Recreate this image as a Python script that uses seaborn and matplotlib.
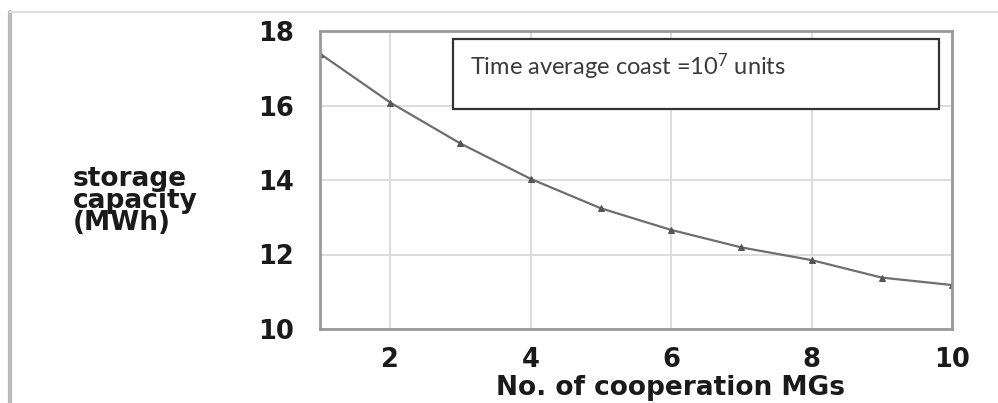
import matplotlib
matplotlib.use("Agg")
import matplotlib.pyplot as plt
from matplotlib.lines import Line2D
from matplotlib.patches import Rectangle
import seaborn as sns
import pandas as pd

# ---- data ----
n_mgs = [1, 2, 3, 4, 5, 6, 7, 8, 9, 10]
storage_mwh = [17.39, 16.08, 14.98, 14.03, 13.24, 12.66, 12.19, 11.85, 11.38, 11.18]
x_ticks = [2, 4, 6, 8, 10]
y_ticks = [10, 12, 14, 16, 18]
annotation = r"Time average coast =10$^7$ units"
x_label = "No. of cooperation MGs"
y_label = "storage\ncapacity\n(MWh)"

df = pd.DataFrame({"mgs": n_mgs, "storage": storage_mwh})

sns.set_theme(style="white")
plt.rcParams["font.family"] = ["DejaVu Sans"]
plt.rcParams["mathtext.fontset"] = "custom"
plt.rcParams["mathtext.rm"] = "Lato"
plt.rcParams["mathtext.it"] = "Lato"

fig = plt.figure(figsize=(9.98, 4.03), dpi=100)
fig.patch.set_facecolor("white")
ax = fig.add_axes([320 / 998, (403 - 329) / 403, 632 / 998, 298 / 403])

sns.lineplot(data=df, x="mgs", y="storage", ax=ax, color="#6e6e6e",
             linewidth=1.6, marker="^", markersize=4.5,
             markeredgecolor="#555555", markerfacecolor="#555555")

ax.set_xlim(1, 10)
ax.set_ylim(10, 18)
ax.set_xticks(x_ticks)
ax.set_yticks(y_ticks)
ax.set_xticklabels([str(v) for v in x_ticks])
ax.set_yticklabels([str(v) for v in y_ticks])
ax.grid(True, color="#dddddd", linewidth=1.4)
ax.set_axisbelow(True)
for s in ax.spines.values():
    s.set_color("#999999")
    s.set_linewidth(2)
ax.tick_params(axis="both", length=0, labelsize=18.5, labelcolor="#1a1a1a")
ax.tick_params(axis="y", pad=19)
ax.tick_params(axis="x", pad=13)
for lbl in ax.get_xticklabels() + ax.get_yticklabels():
    lbl.set_fontweight("bold")
ax.set_xlabel("")
ax.set_ylabel("")

# annotation box
ax.add_patch(Rectangle((0.2104, 0.738), 0.7686, 0.235, transform=ax.transAxes,
                       fill=True, facecolor="white", edgecolor="#333333",
                       linewidth=1.6, zorder=5))
ax.text(0.237, 0.879, annotation, transform=ax.transAxes, fontsize=17,
        family=["Lato", "DejaVu Sans"], color="#3a3a3a", va="center",
        ha="left", zorder=6)

# axis labels
fig.text(73 / 998, (403 - 201) / 403, y_label, fontsize=19, fontweight="bold",
         ha="left", va="center", linespacing=0.82, color="#1a1a1a")
fig.text(670 / 998, (403 - 388) / 403, x_label, fontsize=19, fontweight="bold",
         ha="center", va="center", color="#1a1a1a")

# page frame lines
fig.add_artist(Line2D([10 / 998, 10 / 998], [0, (403 - 12) / 403],
                      transform=fig.transFigure, color="#bbbbbb", linewidth=3))
fig.add_artist(Line2D([10 / 998, 1], [(403 - 12) / 403, (403 - 12) / 403],
                      transform=fig.transFigure, color="#dddddd", linewidth=1.5))

fig.savefig("out.png", dpi=100)
